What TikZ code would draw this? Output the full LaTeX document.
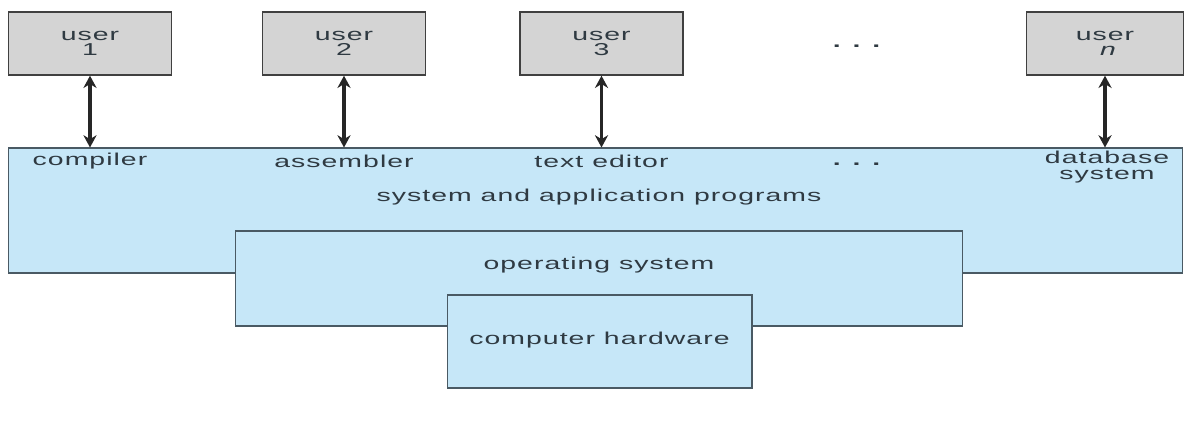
\documentclass[tikz,border=0pt]{standalone}
\usepackage{fontspec}
\setmainfont{Liberation Sans}[FakeStretch=1.65, LetterSpace=6]
\usetikzlibrary{arrows.meta}
\definecolor{layerblue}{HTML}{C6E7F8}
\definecolor{usergray}{HTML}{D4D4D4}
\definecolor{edgegray}{HTML}{4A5A64}
\definecolor{inkgray}{HTML}{2F3A42}
\begin{document}
\begin{tikzpicture}[x=0.02cm, y=0.02cm,
    every node/.style={font=\fontsize{9.8}{8.6}\selectfont, text=inkgray, align=center},
    userbox/.style={draw=black!75, line width=0.8pt, fill=usergray, minimum width=3.26cm, minimum height=1.26cm},
    layer/.style={draw=edgegray, line width=0.6pt, fill=layerblue, inner sep=0pt},
    link/.style={<->, >={Stealth[length=7pt, width=7.5pt]}, line width=2.1pt, black!85}]
    \useasboundingbox (0,0) rectangle (1185,424);

    % Users
    \node[userbox] (user1) at (90,380.5) {user\\1};
    \node[userbox] (user2) at (344,380.5) {user\\2};
    \node[userbox] (user3) at (601.5,380.5) {user\\3};
    \node[userbox, minimum width=3.14cm] (usern) at (1105,380.5) {user\\$\mathit{n}$};
    \node (udots) at (857,378) {\textbf{. . .}};

    % Layers
    \node[layer, minimum width=23.5cm, minimum height=2.5cm] (apps) at (595.5,213.5) {};
    \node (applabel) at (599,227) {system and application programs};
    \node[layer, minimum width=14.56cm, minimum height=1.9cm] (os) at (599,145.5) {};
    \node (oslabel) at (599,159) {operating system};
    \node[layer, minimum width=6.1cm, minimum height=1.86cm] (hw) at (599.5,82.5) {};
    \node (hwlabel) at (599.5,84) {computer hardware};

    % Programs
    \node (compiler) at (90,263) {compiler};
    \node (assembler) at (344,263) {assembler};
    \node (editor) at (601.5,263) {text editor};
    \node (pdots) at (857,260) {\textbf{. . .}};
    \node (database) at (1107,257) {database\\system};

    % User links
    \draw[link] (user1.south) -- (user1.south |- apps.north);
    \draw[link] (user2.south) -- (user2.south |- apps.north);
    \draw[link] (user3.south) -- (user3.south |- apps.north);
    \draw[link] (usern.south) -- (usern.south |- apps.north);
\end{tikzpicture}
\end{document}
